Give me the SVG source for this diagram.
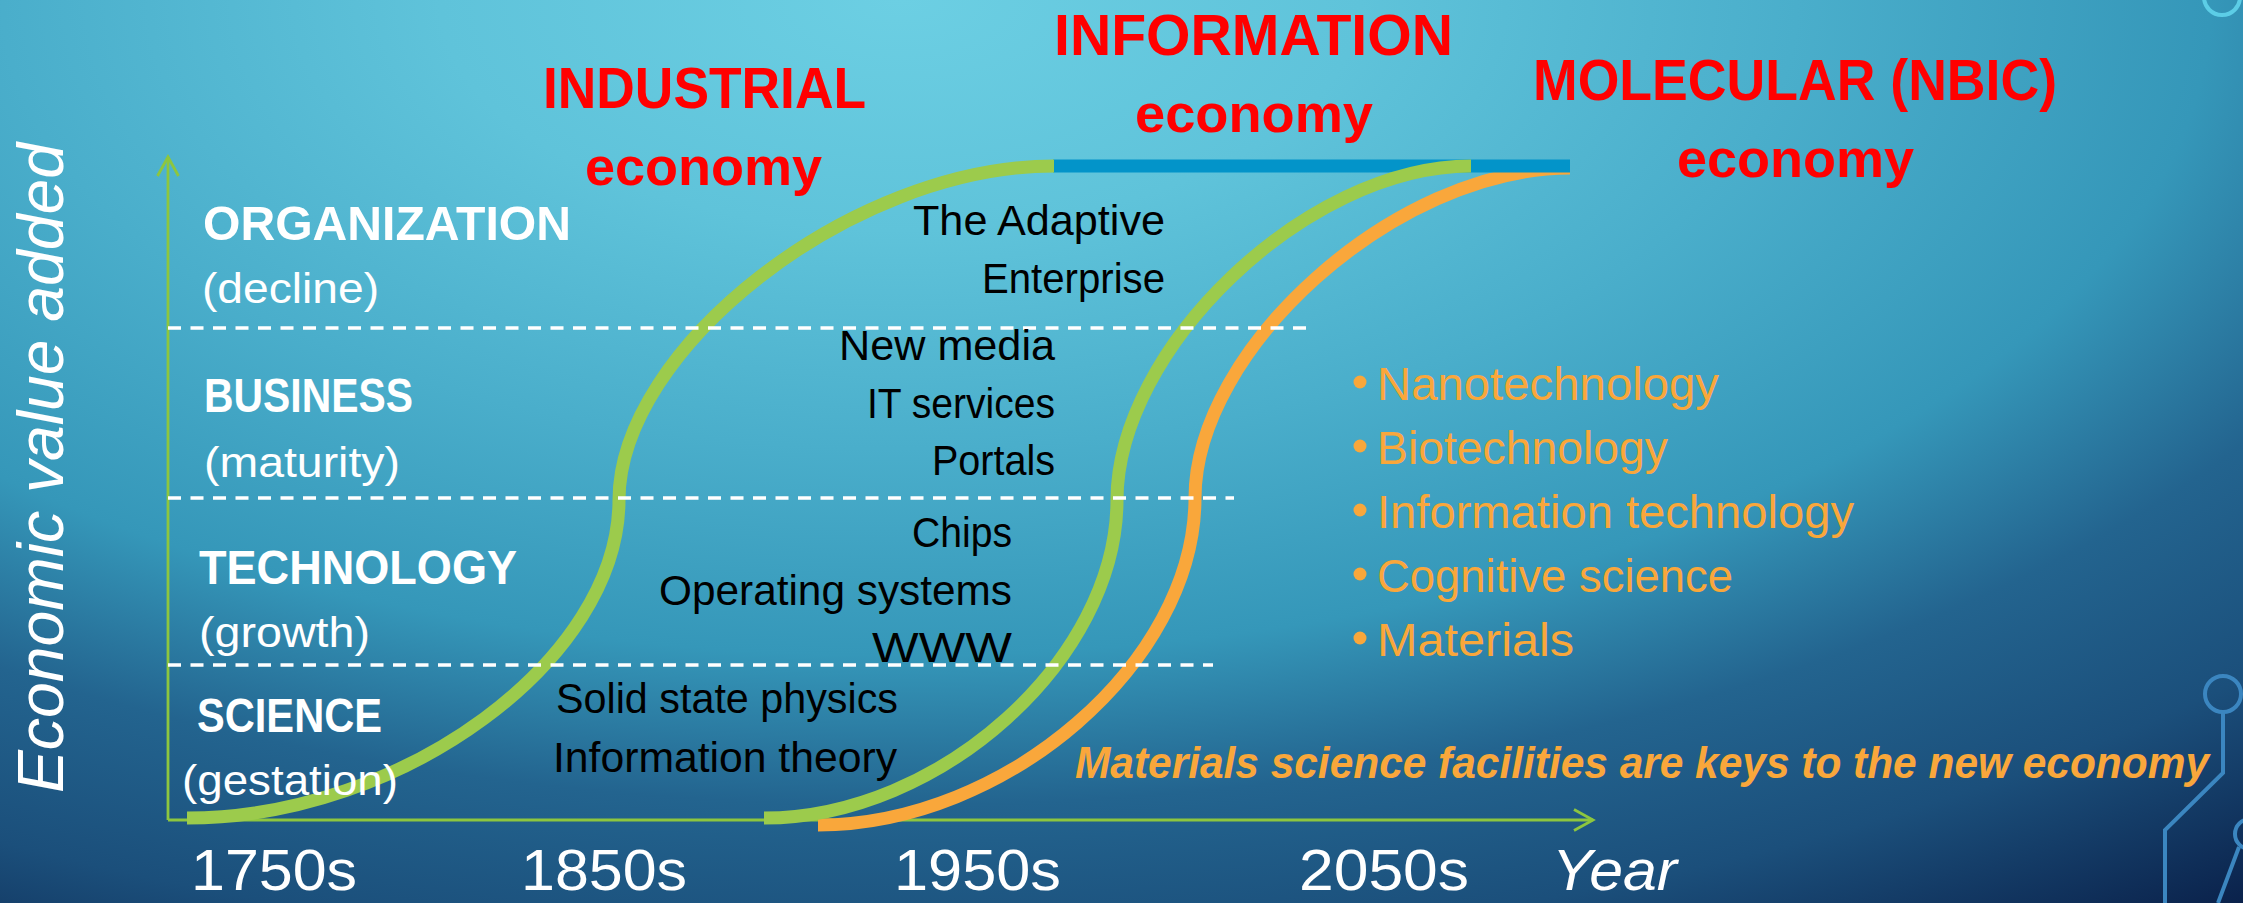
<svg xmlns="http://www.w3.org/2000/svg" width="2243" height="903" viewBox="0 0 2243 903">
  <defs>
    <radialGradient id="bg" gradientUnits="userSpaceOnUse" cx="900" cy="0" r="1150" gradientTransform="translate(900 0) scale(2 1) translate(-900 0)">
      <stop offset="0" stop-color="#6ccfe3"/>
      <stop offset="0.2" stop-color="#5fc3da"/>
      <stop offset="0.39" stop-color="#4aaecb"/>
      <stop offset="0.57" stop-color="#3597b9"/>
      <stop offset="0.7" stop-color="#23648f"/>
      <stop offset="0.83" stop-color="#1b4f7b"/>
      <stop offset="1" stop-color="#081b44"/>
    </radialGradient>
    <marker id="chev" markerUnits="userSpaceOnUse" markerWidth="26" markerHeight="26" viewBox="0 0 26 26" refX="22" refY="13" orient="auto">
      <path d="M3,2.5 L22,13 L3,23.5" fill="none" stroke="#8dc63f" stroke-width="2.8"/>
    </marker>
    <style>
      text { font-family: "Liberation Sans", Arial, sans-serif; }
      .title { font-weight: bold; fill: #ff0000; font-size: 58px; }
      .eco { font-weight: bold; fill: #ff0000; font-size: 54px; }
      .tier { font-weight: bold; fill: #ffffff; font-size: 49px; }
      .phase { fill: #ffffff; font-size: 43px; }
      .item { fill: #000000; font-size: 42px; }
      .nbic { fill: #f9a73b; font-size: 46px; }
      .note { fill: #f9a73b; font-size: 43.5px; font-weight: bold; font-style: italic; }
      .tick { fill: #ffffff; font-size: 58px; }
      .axis { stroke: #8dc63f; stroke-width: 2.8; fill: none; }
      .grid { stroke: #ffffff; stroke-width: 3.3; stroke-dasharray: 13 9.5; fill: none; }
      .wave { fill: none; stroke-width: 13; stroke-linecap: butt; }
      .trace { fill: none; stroke: #3b86c0; stroke-width: 4; }
    </style>
  </defs>

  <!-- backdrop -->
  <rect x="0" y="0" width="2243" height="903" fill="url(#bg)"/>

  <!-- circuit decoration -->
  <g id="circuit">
    <circle cx="2222" cy="-3" r="18" fill="none" stroke="#5ccde6" stroke-width="4"/>
    <circle class="trace" cx="2223" cy="694" r="18"/>
    <path class="trace" d="M2223,712 L2223,773 L2165,830 L2165,903"/>
    <circle class="trace" cx="2250" cy="834" r="15"/>
    <path class="trace" d="M2239,847 L2218,903"/>
  </g>

  <!-- axes -->
  <g id="axes">
    <line class="axis" x1="168" y1="820" x2="168" y2="157" marker-end="url(#chev)"/>
    <line class="axis" x1="168" y1="820" x2="1593" y2="820" marker-end="url(#chev)"/>
  </g>

  <!-- S-curves and plateau -->
  <g id="connectors">
    <path id="curve-nbic" class="wave" stroke="#f9a73b" d="M818,825 C1006,825 1195,662 1195,498 C1195,350 1394,168 1570,168"/>
    <rect id="plateau" x="1053" y="159.5" width="517" height="13" fill="#0394c9"/>
    <path id="curve-industrial" class="wave" stroke="#9ccb4c" d="M187,818 C403,818 619,659 619,500 C619,350 850,166 1054,166"/>
    <path id="curve-information" class="wave" stroke="#9ccb4c" d="M764,818 C940,818 1117,659 1117,500 C1117,350 1305,166 1471,166"/>
  </g>

  <!-- stage separators -->
  <g id="separators">
    <line class="grid" x1="168" y1="328" x2="1311" y2="328"/>
    <line class="grid" x1="168" y1="498" x2="1234" y2="498"/>
    <line class="grid" x1="168" y1="665" x2="1213" y2="665"/>
  </g>

  <!-- y axis title -->
  <g id="y-title">
    <text transform="translate(63,793) rotate(-90)" fill="#ffffff" font-size="64" font-style="italic" textLength="650" lengthAdjust="spacingAndGlyphs">Economic value added</text>
  </g>

  <!-- economy headings -->
  <g id="industrial">
    <text class="title" x="543" y="108" textLength="323" lengthAdjust="spacingAndGlyphs">INDUSTRIAL</text>
    <text class="eco" x="585" y="185" textLength="237" lengthAdjust="spacingAndGlyphs">economy</text>
  </g>
  <g id="information">
    <text class="title" x="1054" y="55" textLength="399" lengthAdjust="spacingAndGlyphs">INFORMATION</text>
    <text class="eco" x="1135" y="132" textLength="238" lengthAdjust="spacingAndGlyphs">economy</text>
  </g>
  <g id="molecular">
    <text class="title" x="1533" y="100" textLength="524" lengthAdjust="spacingAndGlyphs">MOLECULAR (NBIC)</text>
    <text class="eco" x="1677" y="177" textLength="237" lengthAdjust="spacingAndGlyphs">economy</text>
  </g>

  <!-- stage labels -->
  <g id="organization">
    <text class="tier" x="203" y="240" textLength="368" lengthAdjust="spacingAndGlyphs">ORGANIZATION</text>
    <text class="phase" x="202" y="303" textLength="177" lengthAdjust="spacingAndGlyphs">(decline)</text>
  </g>
  <g id="business">
    <text class="tier" x="204" y="412" textLength="209" lengthAdjust="spacingAndGlyphs">BUSINESS</text>
    <text class="phase" x="204" y="477" textLength="196" lengthAdjust="spacingAndGlyphs">(maturity)</text>
  </g>
  <g id="technology">
    <text class="tier" x="199" y="584" textLength="318" lengthAdjust="spacingAndGlyphs">TECHNOLOGY</text>
    <text class="phase" x="199" y="647" textLength="171" lengthAdjust="spacingAndGlyphs">(growth)</text>
  </g>
  <g id="science">
    <text class="tier" x="197" y="732" textLength="185" lengthAdjust="spacingAndGlyphs">SCIENCE</text>
    <text class="phase" x="182" y="795" textLength="216" lengthAdjust="spacingAndGlyphs">(gestation)</text>
  </g>

  <!-- examples per stage -->
  <g id="org-examples">
    <text class="item" x="913" y="235" textLength="252" lengthAdjust="spacingAndGlyphs">The Adaptive</text>
    <text class="item" x="982" y="293" textLength="183" lengthAdjust="spacingAndGlyphs">Enterprise</text>
  </g>
  <g id="business-examples">
    <text class="item" x="839" y="360" textLength="216" lengthAdjust="spacingAndGlyphs">New media</text>
    <text class="item" x="867" y="418" textLength="188" lengthAdjust="spacingAndGlyphs">IT services</text>
    <text class="item" x="932" y="475" textLength="123" lengthAdjust="spacingAndGlyphs">Portals</text>
  </g>
  <g id="tech-examples">
    <text class="item" x="912" y="547" textLength="100" lengthAdjust="spacingAndGlyphs">Chips</text>
    <text class="item" x="659" y="605" textLength="353" lengthAdjust="spacingAndGlyphs">Operating systems</text>
    <text class="item" x="872" y="662" textLength="140" lengthAdjust="spacingAndGlyphs">WWW</text>
  </g>
  <g id="science-examples">
    <text class="item" x="556" y="713" textLength="342" lengthAdjust="spacingAndGlyphs">Solid state physics</text>
    <text class="item" x="553" y="772" textLength="344" lengthAdjust="spacingAndGlyphs">Information theory</text>
  </g>

  <!-- NBIC list -->
  <g id="nbic-list">
    <g fill="#f9a73b">
      <circle cx="1360" cy="382" r="6.5"/>
      <circle cx="1360" cy="446" r="6.5"/>
      <circle cx="1360" cy="510" r="6.5"/>
      <circle cx="1360" cy="574" r="6.5"/>
      <circle cx="1360" cy="638" r="6.5"/>
    </g>
    <text class="nbic" x="1377" y="400" textLength="342" lengthAdjust="spacingAndGlyphs">Nanotechnology</text>
    <text class="nbic" x="1377" y="464" textLength="291" lengthAdjust="spacingAndGlyphs">Biotechnology</text>
    <text class="nbic" x="1377" y="528" textLength="477" lengthAdjust="spacingAndGlyphs">Information technology</text>
    <text class="nbic" x="1377" y="592" textLength="356" lengthAdjust="spacingAndGlyphs">Cognitive science</text>
    <text class="nbic" x="1377" y="656" textLength="197" lengthAdjust="spacingAndGlyphs">Materials</text>
  </g>

  <g id="note">
    <text class="note" x="1075" y="778" textLength="1134" lengthAdjust="spacingAndGlyphs">Materials science facilities are keys to the new economy</text>
  </g>

  <!-- time axis labels -->
  <g id="x-labels">
    <text class="tick" x="191" y="890" textLength="166" lengthAdjust="spacingAndGlyphs">1750s</text>
    <text class="tick" x="521" y="890" textLength="166" lengthAdjust="spacingAndGlyphs">1850s</text>
    <text class="tick" x="894" y="890" textLength="167" lengthAdjust="spacingAndGlyphs">1950s</text>
    <text class="tick" x="1299" y="890" textLength="170" lengthAdjust="spacingAndGlyphs">2050s</text>
    <text class="tick" x="1552" y="890" font-style="italic" textLength="125" lengthAdjust="spacingAndGlyphs">Year</text>
  </g>
</svg>
